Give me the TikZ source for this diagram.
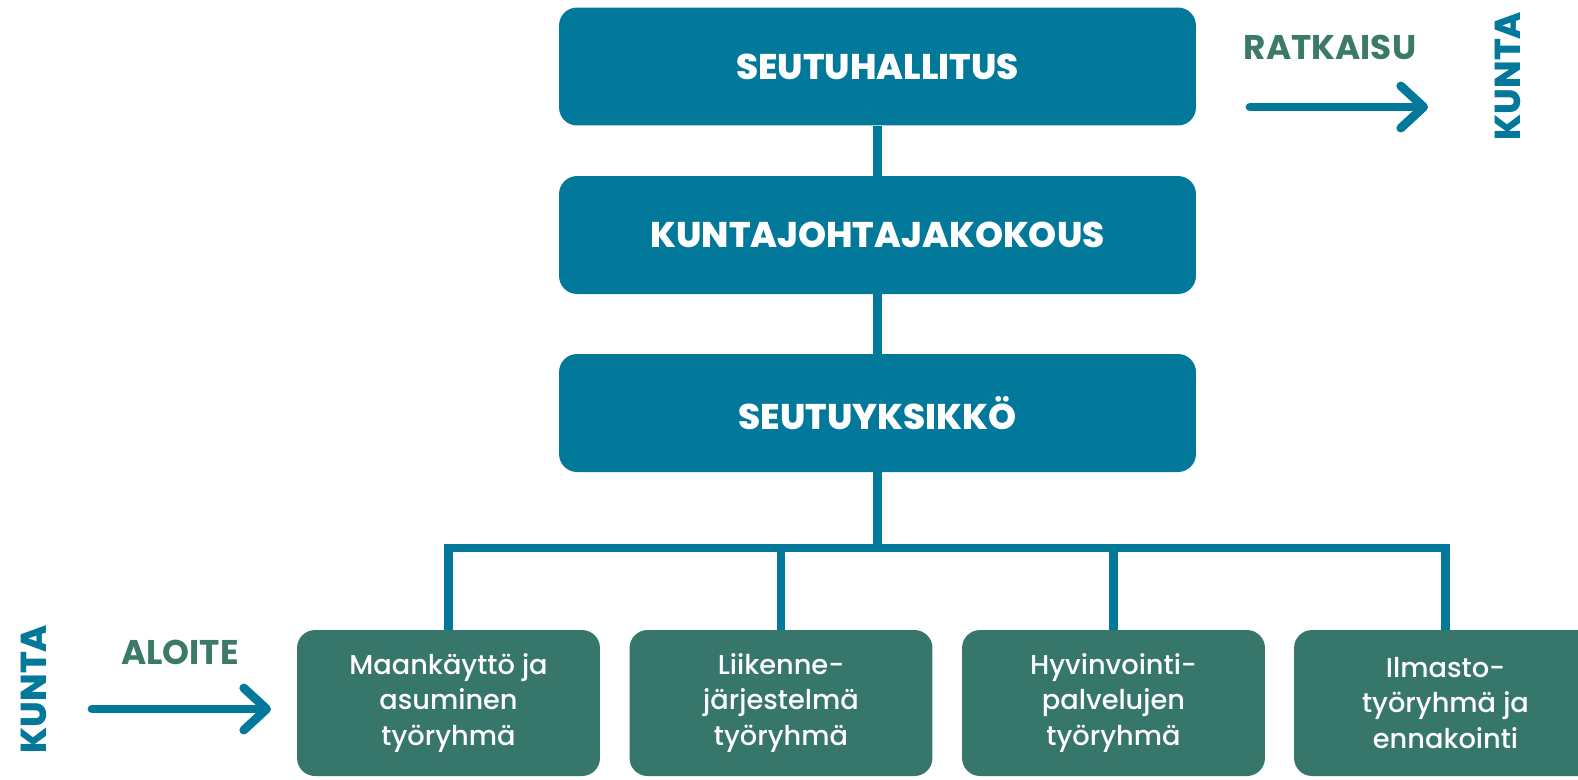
\documentclass[tikz,border=0pt]{standalone}
\usepackage{fontspec}
\setmainfont{Poppins}
\newfontfamily\heavyfont{Poppins ExtraBold}
\newfontfamily\mediumfont{Poppins Medium}
\usetikzlibrary{arrows.meta}
\definecolor{seutu-blue}{HTML}{02789A}
\definecolor{seutu-green}{HTML}{37766A}
\definecolor{label-green}{HTML}{3B7A68}
\tikzset{
  topbox/.style={fill=seutu-blue, rounded corners=0.36cm, inner sep=0pt,
    minimum width=12.74cm, minimum height=2.36cm, text=white,
    font=\heavyfont\fontsize{20.3}{24}\selectfont},
  groupbox/.style={fill=seutu-green, rounded corners=0.36cm, inner sep=0pt,
    minimum width=6.06cm, minimum height=2.92cm, text=white, align=center,
    font=\mediumfont\fontsize{15.5}{20}\selectfont},
  link/.style={draw=seutu-blue, line width=5pt},
  flow/.style={draw=seutu-blue, line width=5pt, line cap=round,
    -{Straight Barb[length=13pt, width=24pt, round]}},
  kunta/.style={text=seutu-blue, rotate=90, inner sep=0pt,
    font=\heavyfont\fontsize{20.5}{24}\selectfont},
  step-label/.style={text=label-green, font=\bfseries\fontsize{19.5}{22}\selectfont}
}
\begin{document}
\begin{tikzpicture}[x=0.02cm, y=-0.02cm]
    \useasboundingbox (0,0) rectangle (1578,779);
    % management chain
    \node[topbox] (hallitus) at (877.5,66.5) {SEUTUHALLITUS};
    \node[topbox] (kokous) at (877.5,235) {KUNTAJOHTAJAKOKOUS};
    \node[topbox] (yksikko) at (877.5,413) {SEUTUYKSIKKÖ};
    % working groups
    \node[groupbox] (maa) at (448.5,703) {Maankäyttö ja\\asuminen\\työryhmä};
    \node[groupbox] (liikenne) at (781,703) {Liikenne-\\järjestelmä\\työryhmä};
    \node[groupbox] (hyvinvointi) at (1113.5,703) {Hyvinvointi-\\palvelujen\\työryhmä};
    \node[groupbox] (ilmasto) at (1445.5,703) {Ilmasto-\\työryhmä ja\\ennakointi};
    \draw[link] (hallitus) -- (kokous);
    \draw[link] (kokous) -- (yksikko);
    \coordinate (bus) at (877.5,548);
    \draw[link] (yksikko) -- (bus);
    \draw[link, line cap=rect] (bus -| maa) -- (bus -| ilmasto);
    \foreach \g in {maa, liikenne, hyvinvointi, ilmasto}
      \draw[link] (bus -| \g) -- (\g);
    % decision goes out to the municipalities
    \node[step-label] (ratkaisu) at (1330,47) {RATKAISU};
    \node[kunta] (kuntaout) at (1508,76) {KUNTA};
    \coordinate (rs) at (1250,107);
    \coordinate (re) at (1428,107);
    \draw[flow] (rs) -- (re);
    % initiative comes in from the municipalities
    \node[kunta] (kuntain) at (34,689) {KUNTA};
    \node[step-label] (aloite) at (180,652) {ALOITE};
    \coordinate (as) at (92,709);
    \coordinate (ae) at (271,709);
    \draw[flow] (as) -- (ae);
  \end{tikzpicture}
\end{document}
